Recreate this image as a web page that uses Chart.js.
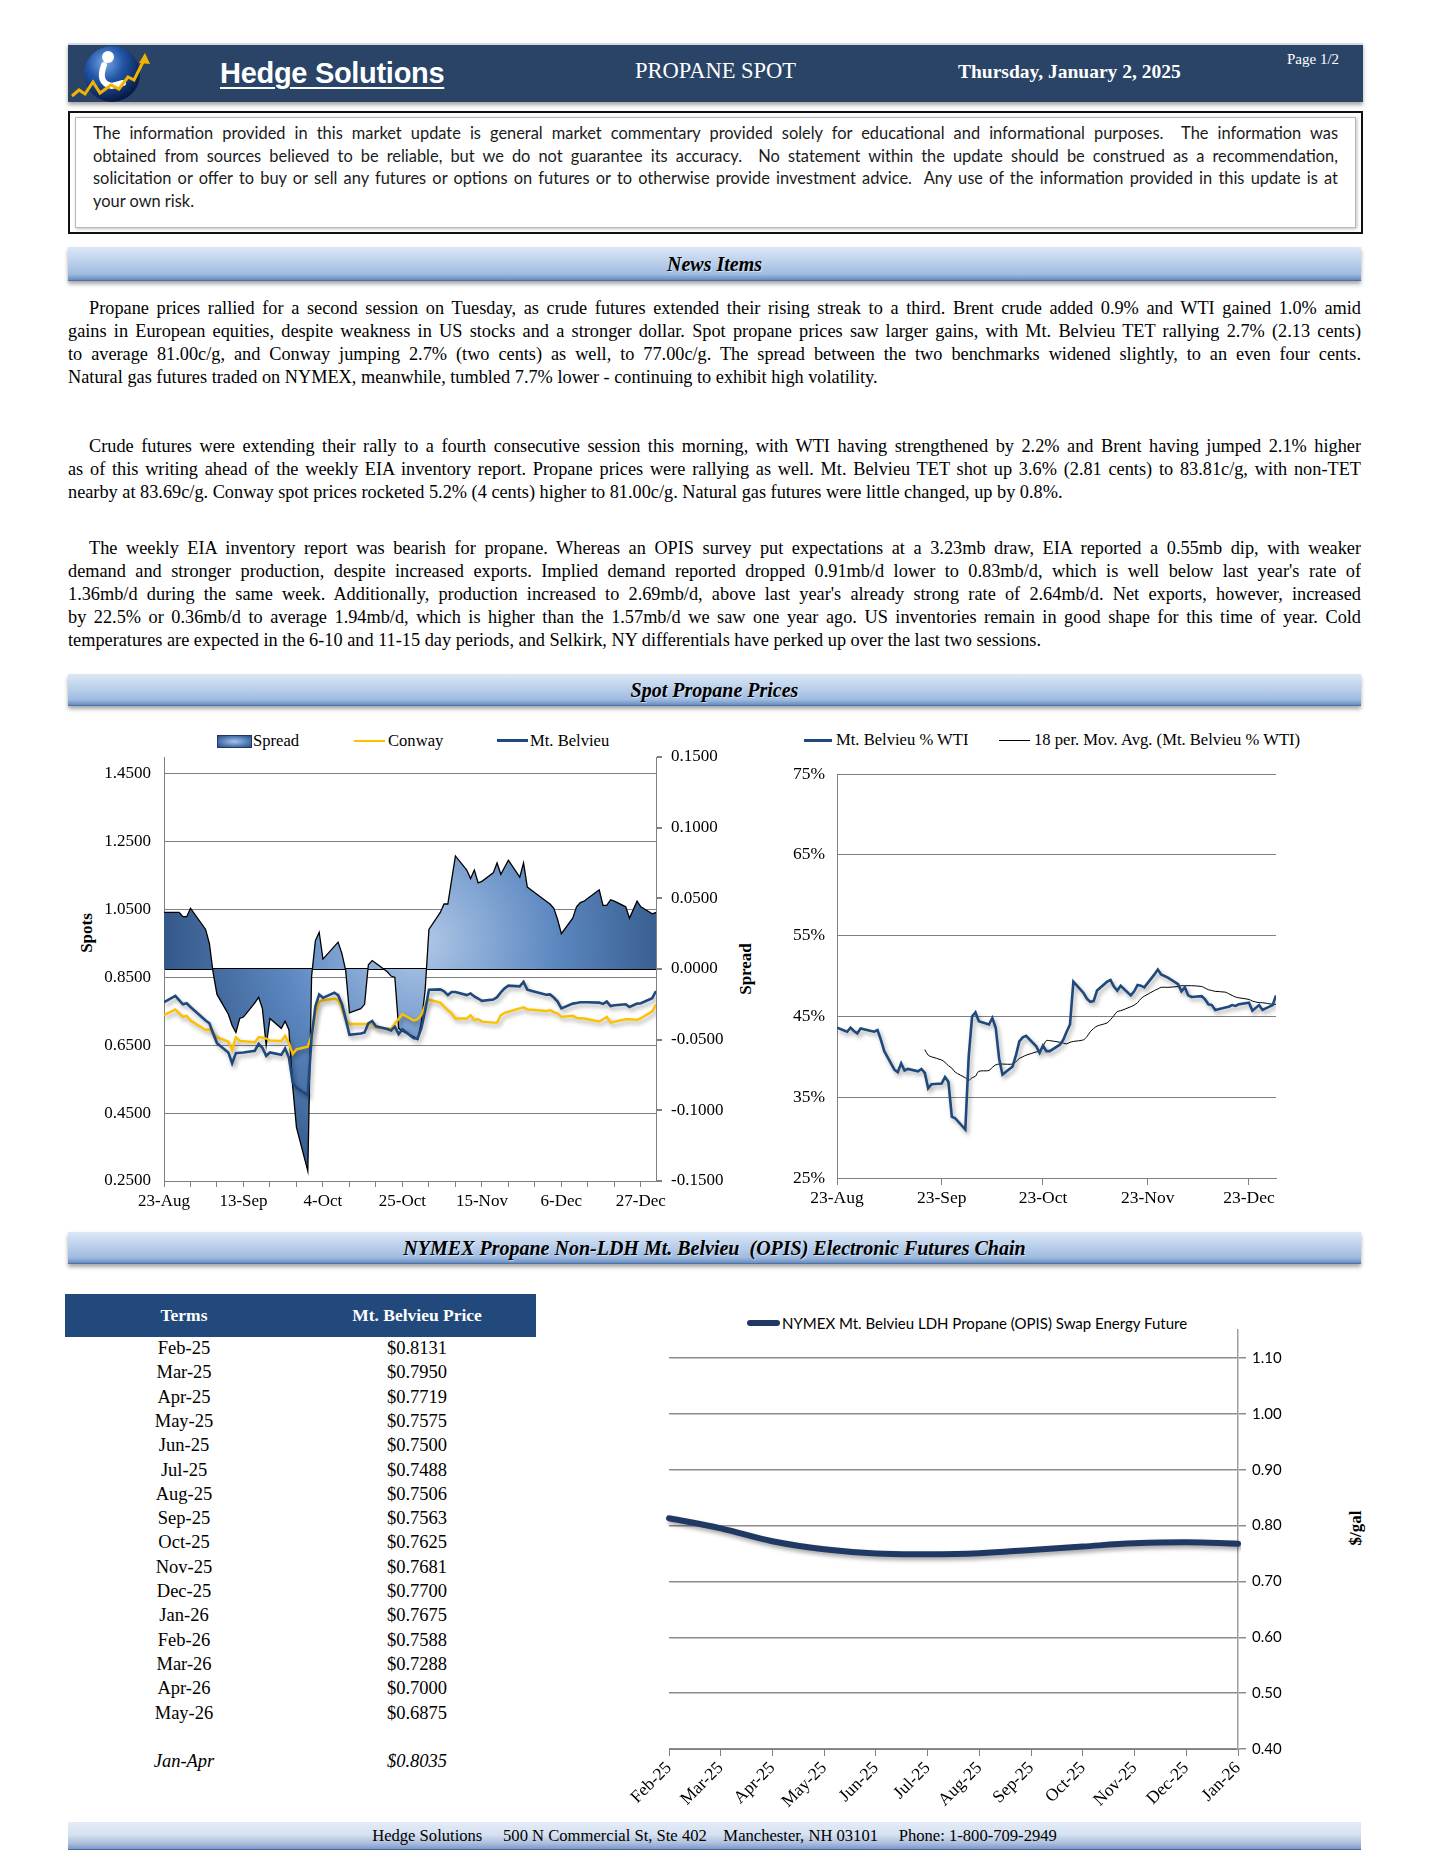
<!DOCTYPE html>
<html>
<head>
<meta charset="utf-8">
<script src="https://cdn.jsdelivr.net/npm/chart.js@4.4.1/dist/chart.umd.min.js"></script>
<style>
html, body { margin: 0; padding: 0; background: #fff; }
#page { position: relative; width: 1440px; height: 1864px; overflow: hidden; font-family: 'Liberation Serif', serif; color: #000; }
.abs { position: absolute; }
#hdr { left: 68px; top: 43px; width: 1295px; height: 57px; background: #2a4468; box-shadow: 0 3px 4px rgba(0,0,0,0.35); border-top: 2px solid #d6dbe3; }
.htxt { position: absolute; color: #fff; white-space: nowrap; }
#disc { left: 68px; top: 111px; width: 1291px; height: 119px; border: 2px solid #111; }
#disc .inner { position: absolute; left: 5px; top: 4px; right: 5px; bottom: 4px; border: 1px solid #b8b8b8; box-shadow: 1px 1px 3px rgba(0,0,0,0.25); }
#disc .txt { position: absolute; left: 23px; top: 9px; width: 1245px; font-family: 'Lato', sans-serif; font-size: 16.4px; color: #1a1a1a; }
.ln { height: 22.6px; line-height: 22.6px; overflow: hidden; text-align: justify; text-align-last: justify; }
.ln.last { text-align-last: left; }
.bar { position: absolute; left: 68px; width: 1293px; background: linear-gradient(#dce7f5 0%, #c2d5ee 35%, #9fbbe0 80%, #6f93c4 95%, #3f6398 100%); box-shadow: 0 3px 4px rgba(0,0,0,0.35); text-align: center; font-weight: bold; font-style: italic; font-size: 20px; text-shadow: 1px 1px 1px rgba(255,255,255,0.6); }
.para { position: absolute; left: 68px; width: 1293px; font-size: 18.3px; }
.para .ln { height: 23.1px; line-height: 23.1px; }
.para .ln.first { padding-left: 21px; }
.lg { position: absolute; white-space: nowrap; font-size: 16.6px; line-height: 18px; }
.vt { position: absolute; transform: translate(-50%, -50%) rotate(-90deg); white-space: nowrap; font-weight: bold; font-size: 17px; }
#tbl { left: 65px; top: 1294px; width: 471px; }
#tbl .head { position: absolute; left: 0; top: 0; width: 471px; height: 43px; background: #22497c; color: #fff; font-weight: bold; font-size: 17.5px; line-height: 43px; }
.c1, .c2 { position: absolute; text-align: center; white-space: nowrap; }
.c1 { left: 0; width: 238px; }
.c2 { left: 238px; width: 228px; }
.row { position: absolute; left: 0; width: 471px; height: 24px; line-height: 24px; font-size: 18.5px; }
#foot { left: 68px; top: 1822px; width: 1293px; height: 28px; background: linear-gradient(#e3ebf6 0%, #d6e2f2 45%, #aebfdc 75%, #7f9ccb 95%, #2e4f86 100%); text-align: center; font-size: 16.6px; line-height: 28px; white-space: pre; }
canvas { position: absolute; }
</style>
</head>
<body>
<div id="page">

  <div id="hdr" class="abs">
    <div class="htxt" style="left:152px;top:10px;height:36px;line-height:36px;font-family:'Liberation Sans',sans-serif;font-weight:bold;font-size:29px;letter-spacing:-0.3px;text-decoration:underline;text-decoration-thickness:2px;text-underline-offset:4px;">Hedge Solutions</div>
    <div class="htxt" style="left:567px;top:12px;height:28px;line-height:28px;font-size:22.5px;">PROPANE SPOT</div>
    <div class="htxt" style="left:890px;top:14px;height:26px;line-height:26px;font-size:19.5px;font-weight:bold;">Thursday, January 2, 2025</div>
    <div class="htxt" style="left:1219px;top:5px;height:18px;line-height:18px;font-size:15px;">Page 1/2</div>
  </div>
  <svg class="abs" style="left:70px;top:44px;" width="84" height="60" viewBox="0 0 84 60">
    <defs>
      <radialGradient id="globe" cx="38%" cy="30%" r="70%">
        <stop offset="0" stop-color="#7aa8e6"/>
        <stop offset="0.45" stop-color="#2257a8"/>
        <stop offset="1" stop-color="#081a45"/>
      </radialGradient>
    </defs>
    <ellipse cx="42" cy="30" rx="28" ry="28" fill="url(#globe)"/>
    <circle cx="38" cy="13" r="6" fill="#fff"/>
    <path d="M34 21 C30 32, 31 40, 42 42 L53 39" stroke="#fff" stroke-width="6" fill="none" stroke-linecap="round"/>
    <polyline points="2,52 9,46 15,50 23,38 30,49 41,41 49,45 58,33 64,36 74,16" stroke="#f0b400" stroke-width="3" fill="none"/>
    <polygon points="75,9 80,20 69,19" fill="#f0b400"/>
  </svg>

  <div id="disc" class="abs">
    <div class="inner"></div>
    <div class="txt">
      <div class="ln">The information provided in this market update is general market commentary provided solely for educational and informational purposes.&nbsp; The information was</div>
      <div class="ln">obtained from sources believed to be reliable, but we do not guarantee its accuracy.&nbsp; No statement within the update should be construed as a recommendation,</div>
      <div class="ln">solicitation or offer to buy or sell any futures or options on futures or to otherwise provide investment advice.&nbsp; Any use of the information provided in this update is at</div>
      <div class="ln last">your own risk.</div>
    </div>
  </div>

  <div class="bar" style="top:247px;height:34px;line-height:34px;">News Items</div>

  <div class="para" style="top:297px;">
    <div class="ln first">Propane prices rallied for a second session on Tuesday, as crude futures extended their rising streak to a third. Brent crude added 0.9% and WTI gained 1.0% amid</div>
    <div class="ln">gains in European equities, despite weakness in US stocks and a stronger dollar. Spot propane prices saw larger gains, with Mt. Belvieu TET rallying 2.7% (2.13 cents)</div>
    <div class="ln">to average 81.00c/g, and Conway jumping 2.7% (two cents) as well, to 77.00c/g. The spread between the two benchmarks widened slightly, to an even four cents.</div>
    <div class="ln last">Natural gas futures traded on NYMEX, meanwhile, tumbled 7.7% lower - continuing to exhibit high volatility.</div>
  </div>
  <div class="para" style="top:435px;">
    <div class="ln first">Crude futures were extending their rally to a fourth consecutive session this morning, with WTI having strengthened by 2.2% and Brent having jumped 2.1% higher</div>
    <div class="ln">as of this writing ahead of the weekly EIA inventory report. Propane prices were rallying as well. Mt. Belvieu TET shot up 3.6% (2.81 cents) to 83.81c/g, with non-TET</div>
    <div class="ln last">nearby at 83.69c/g. Conway spot prices rocketed 5.2% (4 cents) higher to 81.00c/g. Natural gas futures were little changed, up by 0.8%.</div>
  </div>
  <div class="para" style="top:537px;">
    <div class="ln first">The weekly EIA inventory report was bearish for propane. Whereas an OPIS survey put expectations at a 3.23mb draw, EIA reported a 0.55mb dip, with weaker</div>
    <div class="ln">demand and stronger production, despite increased exports. Implied demand reported dropped 0.91mb/d lower to 0.83mb/d, which is well below last year's rate of</div>
    <div class="ln">1.36mb/d during the same week. Additionally, production increased to 2.69mb/d, above last year's already strong rate of 2.64mb/d. Net exports, however, increased</div>
    <div class="ln">by 22.5% or 0.36mb/d to average 1.94mb/d, which is higher than the 1.57mb/d we saw one year ago. US inventories remain in good shape for this time of year. Cold</div>
    <div class="ln last">temperatures are expected in the 6-10 and 11-15 day periods, and Selkirk, NY differentials have perked up over the last two sessions.</div>
  </div>

  <div class="bar" style="top:674px;height:32px;line-height:32px;">Spot Propane Prices</div>

  <!-- legends -->
  <div class="abs" style="left:217px;top:735px;width:33px;height:11px;border:1px solid #1f3864;background:radial-gradient(ellipse at center,#a9c3e3 0%,#4f7bb5 60%,#2c4d7c 100%);"></div>
  <div class="lg" style="left:253px;top:732px;">Spread</div>
  <div class="abs" style="left:354px;top:740px;width:31px;height:2px;background:#ffc000;"></div>
  <div class="lg" style="left:388px;top:732px;">Conway</div>
  <div class="abs" style="left:497px;top:739px;width:31px;height:3px;background:#1f497d;"></div>
  <div class="lg" style="left:530px;top:732px;">Mt. Belvieu</div>

  <div class="abs" style="left:804px;top:739px;width:28px;height:3px;background:#1f497d;"></div>
  <div class="lg" style="left:836px;top:731px;">Mt. Belvieu % WTI</div>
  <div class="abs" style="left:999px;top:740px;width:31px;height:1px;background:#000;"></div>
  <div class="lg" style="left:1034px;top:731px;">18 per. Mov. Avg. (Mt. Belvieu % WTI)</div>

  <div class="vt" style="left:87px;top:933px;">Spots</div>
  <div class="vt" style="left:746px;top:969px;">Spread</div>

  <canvas id="spotChart" width="695" height="500" style="left:70px;top:725px;"></canvas>
  <canvas id="pctChart" width="600" height="500" style="left:770px;top:725px;"></canvas>

  <div class="bar" style="top:1232px;height:32px;line-height:32px;">NYMEX Propane Non-LDH Mt. Belvieu &nbsp;(OPIS) Electronic Futures Chain</div>

  <div id="tbl" class="abs">
    <div class="head"><div class="c1">Terms</div><div class="c2">Mt. Belvieu Price</div></div>
  </div>

  <div class="abs" style="left:747px;top:1320px;width:33px;height:6px;border-radius:3px;background:#1f3864;"></div>
  <div class="lg" style="left:782px;top:1314px;font-family:'Lato',sans-serif;font-size:15px;">NYMEX Mt. Belvieu LDH Propane (OPIS) Swap Energy Future</div>
  <div class="vt" style="left:1356px;top:1528px;">$/gal</div>

  <canvas id="futChart" width="820" height="510" style="left:560px;top:1300px;"></canvas>

  <div id="foot" class="abs">Hedge Solutions     500 N Commercial St, Ste 402    Manchester, NH 03101     Phone: 1-800-709-2949</div>
</div>

<script>
// Spot prices (business days 23-Aug-2024 .. 31-Dec-2024)
const spotStart = '2024-08-23';
const spotEnd = '2024-12-31';
const spotHolidays = ['2024-09-02', '2024-11-28', '2024-12-25'];

const conwayPrices = [
  0.739, 0.756, 0.744, 0.734, 0.737, 0.723,
  0.695, 0.697, 0.685, 0.674,
  0.661, 0.636, 0.674, 0.663, 0.662,
  0.659, 0.674, 0.673, 0.670, 0.664,
  0.663, 0.678, 0.656, 0.625, 0.638,
  0.646, 0.680, 0.744, 0.778, 0.783,
  0.787, 0.783, 0.759, 0.725, 0.713,
  0.713, 0.713, 0.713, 0.717, 0.702,
  0.700, 0.699, 0.715, 0.728, 0.742,
  0.723, 0.727, 0.739, 0.769, 0.785,
  0.776, 0.764, 0.754, 0.744, 0.729,
  0.729, 0.739, 0.725, 0.727, 0.720,
  0.717, 0.717, 0.739, 0.746, 0.749,
  0.759, 0.762, 0.756, 0.754,
  0.751, 0.754, 0.748, 0.744, 0.734,
  0.737, 0.731, 0.730, 0.729, 0.727,
  0.720, 0.727, 0.734, 0.717, 0.720,
  0.727, 0.727, 0.725, 0.730,
  0.750, 0.770
];
const belvieuPrices = [
  0.777, 0.796, 0.783, 0.771, 0.774, 0.763,
  0.723, 0.715, 0.685, 0.656,
  0.629, 0.597, 0.627, 0.628, 0.629,
  0.634, 0.654, 0.643, 0.619, 0.629,
  0.622, 0.641, 0.614, 0.541, 0.525,
  0.503, 0.675, 0.765, 0.800, 0.790,
  0.805, 0.798, 0.772, 0.728, 0.681,
  0.685, 0.688, 0.715, 0.722, 0.706,
  0.698, 0.694, 0.705, 0.683, 0.697,
  0.671, 0.670, 0.700, 0.752, 0.814,
  0.815, 0.809, 0.798, 0.807, 0.807,
  0.798, 0.803, 0.794, 0.788, 0.781,
  0.785, 0.792, 0.806, 0.818, 0.826,
  0.824, 0.837, 0.814, 0.808,
  0.799, 0.800, 0.791, 0.779, 0.759,
  0.773, 0.775, 0.777, 0.777, 0.777,
  0.776, 0.772, 0.779, 0.766, 0.768,
  0.771, 0.763, 0.773, 0.774,
  0.789, 0.810
];
const spreadValues = [
  0.040, 0.040, 0.040, 0.037, 0.037, 0.043,
  0.028, 0.018, -0.003, -0.018,
  -0.032, -0.040, -0.045, -0.035, -0.034,
  -0.024, -0.020, -0.028, -0.054, -0.035,
  -0.042, -0.037, -0.043, -0.083, -0.112,
  -0.143, -0.005, 0.020, 0.026, 0.007,
  0.016, 0.019, 0.011, -0.001, -0.031,
  -0.028, -0.025, 0.003, 0.006, 0.004,
  -0.002, -0.005, -0.006, -0.042, -0.044,
  -0.048, -0.050, -0.038, -0.015, 0.028,
  0.040, 0.046, 0.046, 0.063, 0.080,
  0.070, 0.064, 0.070, 0.061, 0.062,
  0.068, 0.075, 0.067, 0.072, 0.077,
  0.065, 0.075, 0.058, 0.054,
  0.048, 0.046, 0.043, 0.035, 0.025,
  0.036, 0.044, 0.047, 0.048, 0.050,
  0.056, 0.045, 0.045, 0.049, 0.048,
  0.044, 0.036, 0.048, 0.044,
  0.039, 0.040
];
const belvieuPctWti = [
  43.6, 43.1, 43.6, 43.2, 42.9, 43.5,
  43.1, 43.3, 42.1, 40.7,
  38.4, 38.1, 39.2, 38.3, 38.5,
  38.2, 38.5, 38.0, 36.1, 36.6,
  36.7, 37.5, 36.9, 32.6, 32.4,
  31.0, 40.0, 45.0, 45.5, 44.4,
  44.0, 44.8, 43.6, 39.8, 37.8,
  38.8, 40.2, 41.9, 42.4, 42.6,
  41.3, 40.5, 41.4, 40.7, 40.7,
  41.5, 42.1, 43.1, 44.0, 49.3,
  47.9, 47.2, 46.8, 46.9, 48.2,
  49.3, 49.5, 48.7, 48.2, 48.8,
  47.6, 48.1, 48.9, 48.8, 48.6,
  50.2, 50.8, 50.2, 49.8,
  49.0, 48.1, 48.6, 47.6, 47.4,
  47.5, 47.1, 46.5, 46.4, 45.8,
  46.1, 46.2, 46.4, 46.3, 46.5,
  46.7, 45.7, 46.4, 45.8,
  46.4, 47.6
];
const movAvg18 = [
  null, null, null, null, null, null,
  null, null, null, null,
  null, null, null, null, null,
  null, null, 40.9, 40.2, 40.0,
  39.6, 39.3, 38.9, 38.6, 38.1,
  37.4, 37.1, 37.4, 37.6, 38.2,
  38.3, 38.7, 39.0, 39.1, 39.1,
  39.1, 39.4, 39.8, 40.0, 40.2,
  40.6, 40.7, 41.3, 42.0, 42.0,
  41.8, 41.7, 41.6, 41.8, 41.9,
  42.1, 42.5, 43.1, 43.5, 43.8,
  44.2, 44.6, 45.1, 45.6, 45.7,
  46.2, 46.4, 46.7, 47.2, 47.5,
  48.2, 48.4, 48.6, 48.6,
  48.7, 48.8, 48.8, 48.8, 48.8,
  48.7, 48.5, 48.3, 48.2, 48.1,
  48.0, 47.8, 47.6, 47.4, 47.3,
  47.1, 46.9, 46.7, 46.7,
  46.5, 46.5
];

const spotTickDates = ['2024-08-23', '2024-09-13', '2024-10-04', '2024-10-25', '2024-11-15', '2024-12-06', '2024-12-27'];
const spotTickLabels = ['23-Aug', '13-Sep', '4-Oct', '25-Oct', '15-Nov', '6-Dec', '27-Dec'];
const spotLeftTicks = [0.25, 0.45, 0.65, 0.85, 1.05, 1.25, 1.45];
const spreadTicks = [-0.15, -0.10, -0.05, 0, 0.05, 0.10, 0.15];
const pctTickDates = ['2024-08-23', '2024-09-23', '2024-10-23', '2024-11-23', '2024-12-23'];
const pctTickLabels = ['23-Aug', '23-Sep', '23-Oct', '23-Nov', '23-Dec'];
const pctTicks = [25, 35, 45, 55, 65, 75];

// Futures chain
const futTerms = ['Feb-25', 'Mar-25', 'Apr-25', 'May-25', 'Jun-25', 'Jul-25', 'Aug-25', 'Sep-25',
  'Oct-25', 'Nov-25', 'Dec-25', 'Jan-26', 'Feb-26', 'Mar-26', 'Apr-26', 'May-26'];
const futPrices = [0.8131, 0.7950, 0.7719, 0.7575, 0.7500, 0.7488, 0.7506, 0.7563,
  0.7625, 0.7681, 0.7700, 0.7675, 0.7588, 0.7288, 0.7000, 0.6875];
const futAvgTerm = 'Jan-Apr';
const futAvgPrice = 0.8035;
const futChartCount = 12;
const futTicks = [0.40, 0.50, 0.60, 0.70, 0.80, 0.90, 1.00, 1.10];


// ---- helpers
function utc(s) { const p = s.split('-').map(Number); return Date.UTC(p[0], p[1] - 1, p[2]); }
function dayOf(s) { return Math.round((utc(s) - utc(spotStart)) / 864e5); }

function tradeDays() {
  const out = [];
  const last = dayOf(spotEnd);
  for (let d = 0; d <= last; d++) {
    const dt = new Date(utc(spotStart) + d * 864e5);
    const wd = dt.getUTCDay();
    const iso = dt.toISOString().slice(0, 10);
    if (wd === 0 || wd === 6 || spotHolidays.includes(iso)) continue;
    out.push(d);
  }
  return out;
}
const days = tradeDays();
const pts = arr => days.map((d, i) => ({ x: d, y: arr[i] }));
const lastDay = dayOf(spotEnd);
const spotTickDays = spotTickDates.map(dayOf);
const pctTickDays = pctTickDates.map(dayOf);
const weekTicks = [];
for (let d = 0; d <= lastDay; d += 7) weekTicks.push(d);

// table rows
const tbl = document.getElementById('tbl');
futTerms.forEach((t, i) => {
  const r = document.createElement('div');
  r.className = 'row';
  r.style.top = (42 + i * 24.3) + 'px';
  r.innerHTML = '<div class="c1">' + t + '</div><div class="c2">$' + futPrices[i].toFixed(4) + '</div>';
  tbl.appendChild(r);
});
const avgRow = document.createElement('div');
avgRow.className = 'row';
avgRow.style.top = '455px';
avgRow.style.fontStyle = 'italic';
avgRow.innerHTML = '<div class="c1">' + futAvgTerm + '</div><div class="c2">$' + futAvgPrice.toFixed(4) + '</div>';
tbl.appendChild(avgRow);

// ---- chart defaults
Chart.defaults.font.family = "'Liberation Serif', serif";
Chart.defaults.font.size = 17;
Chart.defaults.color = '#000';

const shadowPlugin = {
  id: 'lineShadow',
  beforeDatasetDraw(chart, args) {
    const ds = chart.data.datasets[args.index];
    if (!ds.shadow) return;
    const c = chart.ctx;
    c.save();
    c.shadowColor = 'rgba(0,0,0,0.35)';
    c.shadowBlur = 4;
    c.shadowOffsetX = 2;
    c.shadowOffsetY = 3;
  },
  afterDatasetDraw(chart, args) {
    if (chart.data.datasets[args.index].shadow) chart.ctx.restore();
  }
};

function spreadFill(ctx) {
  const chart = ctx.chart;
  const a = chart.chartArea;
  if (!a) return '#4f7bb5';
  const cx = (a.left + a.right) / 2 + 10;
  const cy = chart.scales.y2.getPixelForValue(0.02);
  const g = chart.ctx.createRadialGradient(cx, cy, 5, cx, cy, (a.right - a.left) * 0.55);
  g.addColorStop(0, '#adc6e6');
  g.addColorStop(0.5, '#5b87c0');
  g.addColorStop(1, '#2f5282');
  return g;
}

const fixTicks = list => scale => { scale.ticks = list.map(v => ({ value: v })); };

// ---- Spot chart
new Chart(document.getElementById('spotChart'), {
  type: 'line',
  data: {
    datasets: [
      { label: 'Mt. Belvieu', data: pts(belvieuPrices), yAxisID: 'y', borderColor: '#1f497d', borderWidth: 2.6,
        pointRadius: 0, tension: 0, shadow: true, order: 1 },
      { label: 'Conway', data: pts(conwayPrices), yAxisID: 'y', borderColor: '#ffc000', borderWidth: 2.4,
        pointRadius: 0, tension: 0, shadow: true, order: 2 },
      { label: 'Spread', data: pts(spreadValues), yAxisID: 'y2', borderColor: '#000', borderWidth: 1.3,
        backgroundColor: spreadFill, fill: 'origin', pointRadius: 0, tension: 0, order: 3 }
    ]
  },
  options: {
    responsive: false, animation: false, events: [],
    layout: { padding: { left: 0, right: 0, top: 32, bottom: 0 } },
    plugins: { legend: { display: false }, tooltip: { enabled: false } },
    scales: {
      x: {
        type: 'linear', min: 0, max: lastDay,
        afterBuildTicks: fixTicks(weekTicks),
        afterFit: s => { s.height = 44; },
        grid: { drawOnChartArea: false, tickLength: 6, color: '#808080' },
        border: { color: '#808080' },
        ticks: { autoSkip: false, maxRotation: 0, padding: 4,
          callback: v => { const i = spotTickDays.indexOf(v); return i >= 0 ? spotTickLabels[i] : ''; } }
      },
      y: {
        position: 'left', min: 0.25, max: 1.5,
        afterBuildTicks: fixTicks(spotLeftTicks),
        afterFit: s => { s.width = 94; },
        grid: { color: '#808080', drawTicks: false },
        border: { color: '#808080' },
        ticks: { padding: 13, callback: v => v.toFixed(4) }
      },
      y2: {
        position: 'right', min: -0.15, max: 0.15, z: 1,
        afterBuildTicks: fixTicks(spreadTicks),
        afterFit: s => { s.width = 109; },
        grid: { color: c => (c.tick && Math.abs(c.tick.value) < 1e-9) ? '#000' : 'rgba(0,0,0,0)',
          lineWidth: 2, tickColor: '#808080', tickLength: 6 },
        border: { color: '#808080' },
        ticks: { padding: 9, callback: v => v.toFixed(4) }
      }
    }
  },
  plugins: [shadowPlugin]
});

// ---- Mt. Belvieu % WTI chart
new Chart(document.getElementById('pctChart'), {
  type: 'line',
  data: {
    datasets: [
      { label: 'Mt. Belvieu % WTI', data: pts(belvieuPctWti), borderColor: '#1f497d', borderWidth: 2.6,
        pointRadius: 0, tension: 0, shadow: true },
      { label: '18 per. Mov. Avg. (Mt. Belvieu % WTI)', data: pts(movAvg18), borderColor: '#000', borderWidth: 1,
        pointRadius: 0, tension: 0.3, spanGaps: false }
    ]
  },
  options: {
    responsive: false, animation: false, events: [],
    layout: { padding: { left: 0, right: 94, top: 49, bottom: 0 } },
    plugins: { legend: { display: false }, tooltip: { enabled: false } },
    scales: {
      x: {
        type: 'linear', min: 0, max: lastDay,
        afterBuildTicks: fixTicks(pctTickDays),
        afterFit: s => { s.height = 47; },
        grid: { drawOnChartArea: false, tickLength: 7, color: '#808080' },
        border: { color: '#808080' },
        ticks: { autoSkip: false, maxRotation: 0, padding: 3, font: { size: 17.5 },
          callback: v => { const i = pctTickDays.indexOf(v); return i >= 0 ? pctTickLabels[i] : ''; } }
      },
      y: {
        position: 'left', min: 25, max: 75,
        afterBuildTicks: fixTicks(pctTicks),
        afterFit: s => { s.width = 67; },
        grid: { color: '#808080', drawTicks: false },
        border: { color: '#808080' },
        ticks: { padding: 12, font: { size: 17.5 }, callback: v => v + '%' }
      }
    }
  },
  plugins: [shadowPlugin]
});

// ---- Futures chain chart
new Chart(document.getElementById('futChart'), {
  type: 'line',
  data: {
    labels: futTerms.slice(0, futChartCount),
    datasets: [
      { label: 'NYMEX Mt. Belvieu LDH Propane (OPIS) Swap Energy Future', data: futPrices.slice(0, futChartCount),
        borderColor: '#1f3864', borderWidth: 6, pointRadius: 0, tension: 0.4, shadow: true,
        borderCapStyle: 'round' }
    ]
  },
  options: {
    responsive: false, animation: false, events: [],
    layout: { padding: { left: 109, right: 0, top: 30, bottom: 0 } },
    plugins: { legend: { display: false }, tooltip: { enabled: false } },
    scales: {
      x: {
        afterFit: s => { s.height = 61; },
        grid: { drawOnChartArea: false, tickLength: 7, color: '#808080' },
        border: { color: '#808080' },
        ticks: { autoSkip: false, minRotation: 45, maxRotation: 45, padding: 2, font: { size: 17.5 } }
      },
      y: {
        position: 'right', min: 0.4, max: 1.15,
        afterBuildTicks: fixTicks(futTicks),
        afterFit: s => { s.width = 142; },
        grid: { color: '#8c8c8c', lineWidth: 1.5, tickLength: 8 },
        border: { color: '#a0a0a0', width: 1.5 },
        ticks: { padding: 6, font: { family: "'Lato', sans-serif", size: 15 }, callback: v => v.toFixed(2) }
      }
    }
  },
  plugins: [shadowPlugin]
});
</script>
</body>
</html>
